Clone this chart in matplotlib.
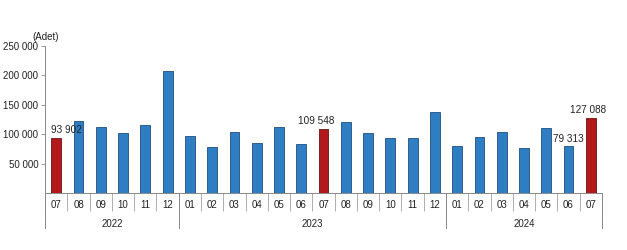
import numpy as np
import matplotlib.pyplot as plt
from matplotlib.transforms import blended_transform_factory

plt.rcParams['font.family'] = ['Liberation Sans', 'DejaVu Sans']

months = ["07", "08", "09", "10", "11", "12",
          "01", "02", "03", "04", "05", "06", "07", "08", "09", "10", "11", "12",
          "01", "02", "03", "04", "05", "06", "07"]
values = [93902, 122900, 112600, 101200, 116000, 207000,
          96700, 78500, 104100, 84800, 112600, 83100, 109548, 121200, 101200, 92700, 92700, 137700,
          79700, 94400, 104100, 76300, 109700, 79313, 127088]
years = ["2022", "2023", "2024"]
year_start = [0, 6, 18]
highlight = [0, 12, 24]
labelled = {0: "93 902", 12: "109 548", 23: "79 313", 24: "127 088"}
label_shift = {0: 7, 12: -5, 23: 0, 24: -2}

blue = "#2F7DC2"
red = "#B2191D"

fig = plt.figure(figsize=(6.27, 2.5), dpi=100)
ax = fig.add_axes([0.072, 0.228, 0.888, 0.588])

x = np.arange(len(values))
colors = [red if i in highlight else blue for i in x]
edges = ["#6A1010" if i in highlight else "#1E4F7E" for i in x]
ax.bar(x, values, width=0.44, color=colors, edgecolor=edges, linewidth=0.6, zorder=2)

ax.set_xlim(-0.5, len(values) - 0.5)
ax.set_ylim(0, 250000)
ax.set_yticks([50000, 100000, 150000, 200000, 250000])
ax.set_yticklabels(["50 000", "100 000", "150 000", "200 000", "250 000"])

ax.set_xticks(x)
ax.set_xticklabels(months)
ax.set_xticks(np.arange(len(values) + 1) - 0.5, minor=True)
ax.tick_params(axis="x", which="major", length=0, pad=5, labelsize=7, colors="#222222")
ax.tick_params(axis="x", which="minor", length=13, width=0.6, color="#A0A0A0")
ax.tick_params(axis="y", length=3, width=0.6, pad=2, labelsize=7, color="#888888",
               labelcolor="#222222")

for s in ["top", "right"]:
    ax.spines[s].set_visible(False)
ax.spines["left"].set_color("#888888")
ax.spines["bottom"].set_color("#888888")
ax.spines["left"].set_linewidth(0.7)
ax.spines["bottom"].set_linewidth(0.7)

trans = blended_transform_factory(ax.transData, ax.transAxes)
bounds = year_start + [len(values)]
for k, yr in enumerate(years):
    ax.text((bounds[k] + bounds[k + 1] - 1) / 2, -0.21, yr, transform=trans,
            ha="center", va="center", fontsize=7, color="#222222")
for b in bounds:
    ax.plot([b - 0.5, b - 0.5], [0, -0.24], transform=trans, color="#888888",
            lw=0.7, clip_on=False)

for i, txt in labelled.items():
    ax.annotate(txt, (x[i], values[i]), xytext=(label_shift[i], 2), textcoords="offset points",
                ha="center", va="bottom", fontsize=7.2, color="#222222")

fig.text(0.052, 0.84, "(Adet)", fontsize=7, color="#222222")

fig.savefig("out.png", dpi=100)
